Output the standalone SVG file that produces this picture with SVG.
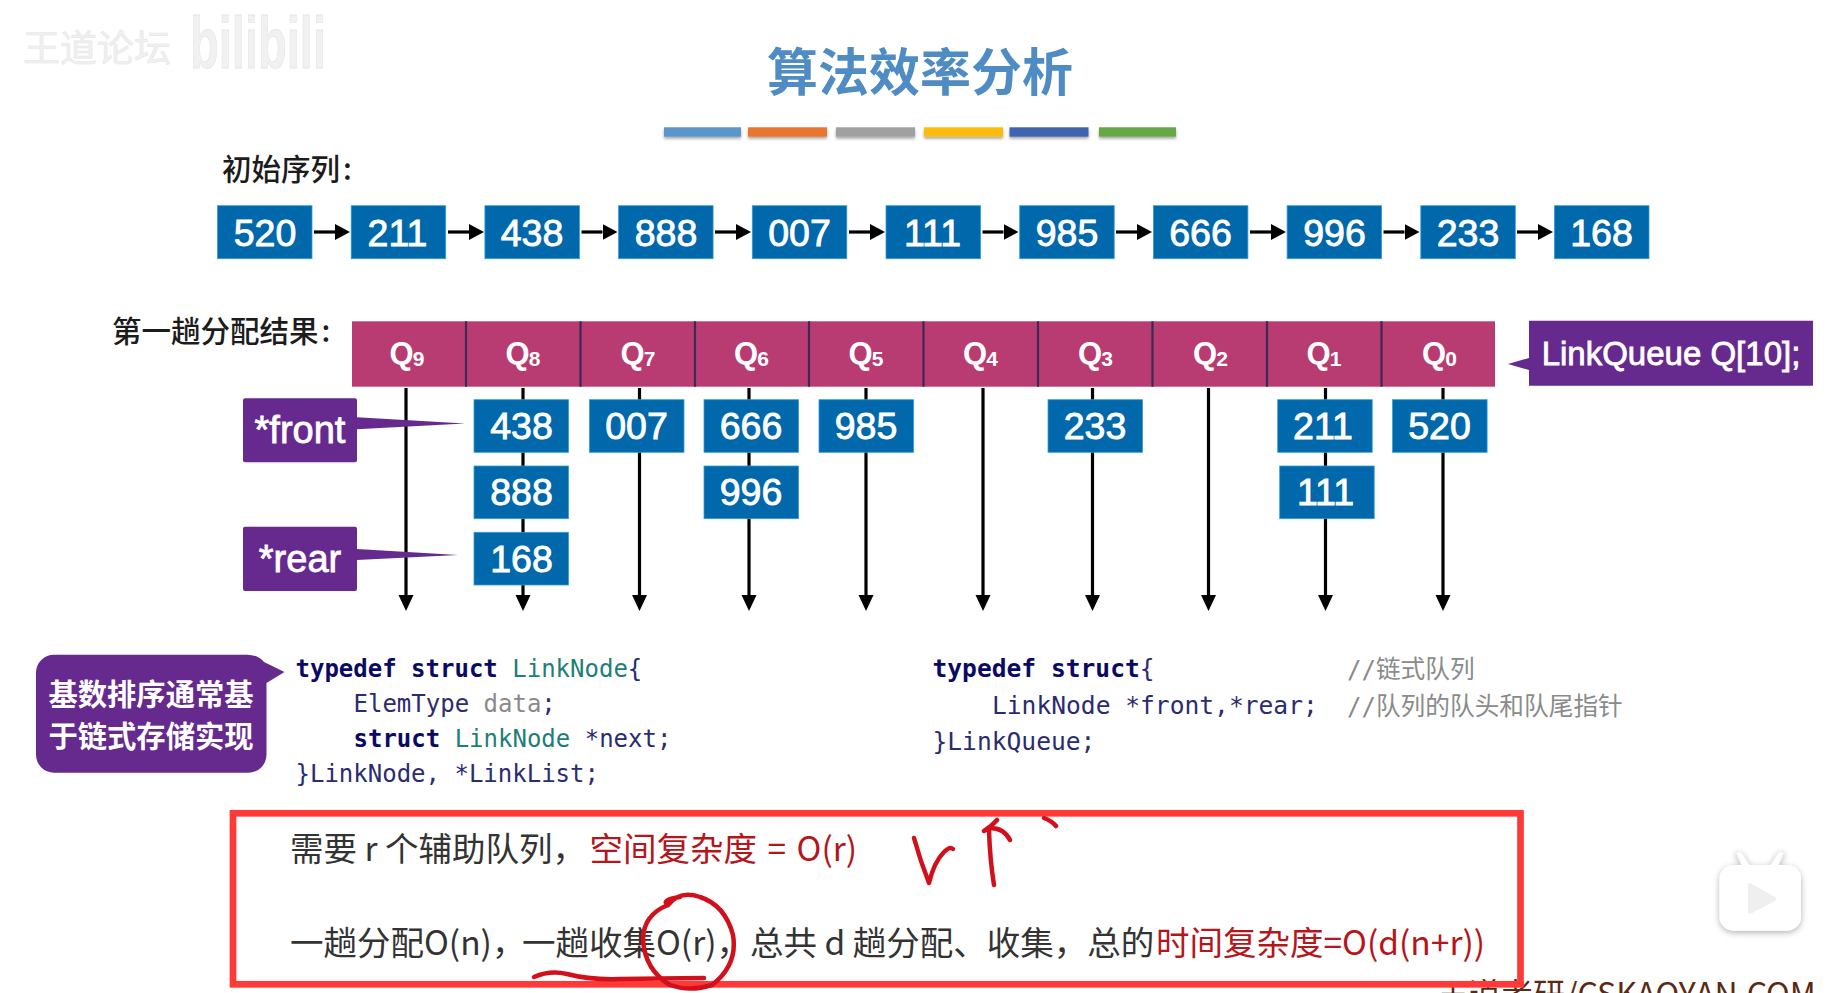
<svg xmlns="http://www.w3.org/2000/svg" width="1848" height="993" viewBox="0 0 1848 993">
<style>
text{font-family:"Liberation Sans","Noto Sans CJK SC",sans-serif}
.cjk{font-family:"Noto Sans CJK SC",sans-serif}
.b{fill:#0068ab;stroke:#2f9fd8;stroke-width:.8}
.n{fill:#fff;font-size:37.500px;text-anchor:middle;stroke:#fff;stroke-width:.9}
.q{fill:#fff;font-size:31px;font-weight:700}
.qs{font-size:21px}
.w{fill:#fff;stroke:#fff;stroke-width:.8}
.lbl{font-size:29.500px;fill:#1c1c1c;font-weight:500}
.c{font-family:"DejaVu Sans Mono",monospace;font-size:24px;fill:#2b2b70}
.c2{font-size:24.600px}
.k{font-weight:700;fill:#0a0a66}
.t{fill:#1d7f78}
.g{fill:#8a8a8a}
.cm{fill:#8a8a8a}
.cc{font-family:"Noto Sans CJK SC",sans-serif;font-size:24.700px}
.s{font-size:33.500px;fill:#333;font-family:"Noto Sans CJK SC",sans-serif;font-weight:400}
.r{fill:#b5161c}
.ink{fill:none;stroke:#d2101c;stroke-width:4.500;stroke-linecap:round;stroke-linejoin:round}
.h{stroke:#000;stroke-width:3.200;fill:none;marker-end:url(#ah)}
.v{stroke:#000;stroke-width:3.200;fill:none;marker-end:url(#av)}
</style>
<defs>
<marker id="ah" markerUnits="userSpaceOnUse" markerWidth="16" markerHeight="16" refX="0" refY="8" orient="auto"><path d="M0 0L15 8L0 16Z" fill="#000"/></marker>
<marker id="av" markerUnits="userSpaceOnUse" markerWidth="16" markerHeight="16" refX="0" refY="8" orient="auto"><path d="M0 .5L16 8L0 15.500Z" fill="#000"/></marker>
<filter id="sh" x="-10%" y="-50%" width="120%" height="220%"><feDropShadow dx="0" dy="2" stdDeviation="1.500" flood-color="#000" flood-opacity=".35"/></filter>
<filter id="sh2" x="-20%" y="-20%" width="140%" height="140%"><feDropShadow dx="0" dy="2" stdDeviation="3" flood-color="#000" flood-opacity=".3"/></filter>
</defs>
<rect width="1848" height="993" fill="#fff"/>

<g id="watermark">
<text x="23" y="62" font-size="37" fill="#f0f0f0" stroke="#e8e8e8" stroke-width=".6" class="cjk">王道论坛</text>
<text x="190" y="68" font-size="72" font-weight="700" fill="#f1f1f1" stroke="#e6e6e6" stroke-width=".8" textLength="136" lengthAdjust="spacingAndGlyphs">bilibili</text>
</g>

<g id="title">
<text x="920" y="91" font-size="51" font-weight="700" fill="#4f8cc4" text-anchor="middle" class="cjk">算法效率分析</text>
<rect x="664" y="127.300" width="77" height="9.400" fill="#5a96ca" filter="url(#sh)"/>
<rect x="748" y="127.300" width="79" height="9.400" fill="#e8762e" filter="url(#sh)"/>
<rect x="836" y="127.300" width="79" height="9.400" fill="#a0a0a0" filter="url(#sh)"/>
<rect x="924" y="127.300" width="79" height="9.400" fill="#fdbb10" filter="url(#sh)"/>
<rect x="1009.500" y="127.300" width="79" height="9.400" fill="#3f64b0" filter="url(#sh)"/>
<rect x="1099" y="127.300" width="77" height="9.400" fill="#65a844" filter="url(#sh)"/>
</g>

<g id="labels">
<text x="222" y="180" class="lbl cjk">初始序列<tspan dx="3">:</tspan></text>
<text x="112" y="342" class="lbl cjk">第一趟分配结果<tspan dx="3">:</tspan></text>
</g>

<g id="connectors">
<path class="h" d="M314 232H335"/><path class="h" d="M448 232H469"/><path class="h" d="M581.500 232H602.500"/><path class="h" d="M715 232H736"/><path class="h" d="M849 232H870"/><path class="h" d="M982.500 232H1003.500"/><path class="h" d="M1116 232H1137"/><path class="h" d="M1250 232H1271"/><path class="h" d="M1383.500 232H1404.500"/><path class="h" d="M1517 232H1538"/>
<path class="v" d="M406 388V595"/><path class="v" d="M523 388V595"/><path class="v" d="M639.500 388V595"/><path class="v" d="M749 388V595"/><path class="v" d="M866 388V595"/><path class="v" d="M983 388V595"/><path class="v" d="M1092.500 388V595"/><path class="v" d="M1208.500 388V595"/><path class="v" d="M1325.500 388V595"/><path class="v" d="M1443 388V595"/>
</g>

<g id="sequence">
<g id="s0"><rect class="b" x="217.500" y="205.700" width="94.500" height="53"/><text class="n" x="265" y="246">520</text></g>
<g id="s1"><rect class="b" x="351.200" y="205.700" width="94.500" height="53"/><text class="n" x="397.500" y="246">211</text></g>
<g id="s2"><rect class="b" x="484.900" y="205.700" width="94.500" height="53"/><text class="n" x="532" y="246">438</text></g>
<g id="s3"><rect class="b" x="618.600" y="205.700" width="94.500" height="53"/><text class="n" x="666" y="246">888</text></g>
<g id="s4"><rect class="b" x="752.300" y="205.700" width="94.500" height="53"/><text class="n" x="799.500" y="246">007</text></g>
<g id="s5"><rect class="b" x="886" y="205.700" width="94.500" height="53"/><text class="n" x="932.500" y="246">111</text></g>
<g id="s6"><rect class="b" x="1019.700" y="205.700" width="94.500" height="53"/><text class="n" x="1067" y="246">985</text></g>
<g id="s7"><rect class="b" x="1153.400" y="205.700" width="94.500" height="53"/><text class="n" x="1200.500" y="246">666</text></g>
<g id="s8"><rect class="b" x="1287.100" y="205.700" width="94.500" height="53"/><text class="n" x="1334.500" y="246">996</text></g>
<g id="s9"><rect class="b" x="1420.800" y="205.700" width="94.500" height="53"/><text class="n" x="1468" y="246">233</text></g>
<g id="s10"><rect class="b" x="1554.500" y="205.700" width="94.500" height="53"/><text class="n" x="1601.500" y="246">168</text></g>
</g>

<g id="queue">
<rect x="352" y="321.300" width="1143" height="65.400" fill="#b83c72"/>
<path d="M466 321.300V386.700M580.500 321.300V386.700M695 321.300V386.700M809 321.300V386.700M923.500 321.300V386.700M1038 321.300V386.700M1152.500 321.300V386.700M1267 321.300V386.700M1381.500 321.300V386.700" stroke="#3a2a55" stroke-width="2.200"/>
<text class="q" x="389.500" y="364">Q<tspan class="qs" dy="2" dx="-1">9</tspan></text>
<text class="q" x="505.500" y="364">Q<tspan class="qs" dy="2" dx="-1">8</tspan></text>
<text class="q" x="620.500" y="364">Q<tspan class="qs" dy="2" dx="-1">7</tspan></text>
<text class="q" x="734" y="364">Q<tspan class="qs" dy="2" dx="-1">6</tspan></text>
<text class="q" x="848.500" y="364">Q<tspan class="qs" dy="2" dx="-1">5</tspan></text>
<text class="q" x="963" y="364">Q<tspan class="qs" dy="2" dx="-1">4</tspan></text>
<text class="q" x="1078" y="364">Q<tspan class="qs" dy="2" dx="-1">3</tspan></text>
<text class="q" x="1193" y="364">Q<tspan class="qs" dy="2" dx="-1">2</tspan></text>
<text class="q" x="1306.500" y="364">Q<tspan class="qs" dy="2" dx="-1">1</tspan></text>
<text class="q" x="1422" y="364">Q<tspan class="qs" dy="2" dx="-1">0</tspan></text>
</g>

<g id="buckets">
<g id="n438"><rect class="b" x="474" y="399.700" width="94.500" height="52.600"/><text class="n" x="521.500" y="438.500">438</text></g>
<g id="n888"><rect class="b" x="474" y="466" width="94.500" height="52.700"/><text class="n" x="521.500" y="505">888</text></g>
<g id="n168"><rect class="b" x="474" y="532.300" width="94.500" height="52.700"/><text class="n" x="521.500" y="571.500">168</text></g>
<g id="n007"><rect class="b" x="589.500" y="399.700" width="94.500" height="52.600"/><text class="n" x="636.500" y="438.500">007</text></g>
<g id="n666"><rect class="b" x="704" y="399.700" width="94.500" height="52.600"/><text class="n" x="751" y="438.500">666</text></g>
<g id="n996"><rect class="b" x="704" y="466" width="94.500" height="52.700"/><text class="n" x="751" y="505">996</text></g>
<g id="n985"><rect class="b" x="819" y="399.700" width="94.500" height="52.600"/><text class="n" x="866" y="438.500">985</text></g>
<g id="n233"><rect class="b" x="1048" y="399.700" width="94.500" height="52.600"/><text class="n" x="1095" y="438.500">233</text></g>
<g id="n211"><rect class="b" x="1277.700" y="399.700" width="94.500" height="52.600"/><text class="n" x="1323" y="438.500">211</text></g>
<g id="n111"><rect class="b" x="1279.700" y="466" width="94.500" height="52.700"/><text class="n" x="1325.500" y="505">111</text></g>
<g id="n520"><rect class="b" x="1392.600" y="399.700" width="94.500" height="52.600"/><text class="n" x="1439.500" y="438.500">520</text></g>
</g>

<g id="front">
<path d="M245 398.300H355a2 2 0 0 1 2 2V417.300L465 423.500L357 429.300V460.300a2 2 0 0 1-2 2H245a2 2 0 0 1-2-2V400.300a2 2 0 0 1 2-2Z" fill="#662a8f"/>
<text x="300" y="443" font-size="38" text-anchor="middle" class="w">*front</text>
</g>
<g id="rear">
<path d="M245 526.700H355a2 2 0 0 1 2 2V549L458 555L357 560V589a2 2 0 0 1-2 2H245a2 2 0 0 1-2-2V528.700a2 2 0 0 1 2-2Z" fill="#662a8f"/>
<text x="300" y="571.500" font-size="38" text-anchor="middle" class="w">*rear</text>
</g>
<g id="linkqueue">
<path d="M1529 320.700H1813V385.700H1529V370L1508 364L1529 358Z" fill="#662a8f"/>
<text x="1671" y="365" font-size="33" text-anchor="middle" class="w">LinkQueue Q[10];</text>
</g>

<g id="note">
<path d="M54 654.700H247Q258 654.700 264 662L284.500 672L266.500 683V754.700a18 18 0 0 1-18 18H54a18 18 0 0 1-18-18V672.700a18 18 0 0 1 18-18Z" fill="#662a8f"/>
<text x="151" y="705" font-size="29.300" font-weight="700" fill="#fff" text-anchor="middle" class="cjk">基数排序通常基</text>
<text x="151" y="747" font-size="29.300" font-weight="700" fill="#fff" text-anchor="middle" class="cjk">于链式存储实现</text>
</g>

<g id="code1">
<text class="c" x="295.500" y="677"><tspan class="k">typedef struct</tspan> <tspan class="t">LinkNode</tspan>{</text>
<text class="c" x="353.500" y="712">ElemType <tspan class="g">data</tspan>;</text>
<text class="c" x="353.500" y="747"><tspan class="k">struct</tspan> <tspan class="t">LinkNode</tspan> *next;</text>
<text class="c" x="295.500" y="782">}LinkNode, *LinkList;</text>
</g>
<g id="code2">
<text class="c c2" x="932.500" y="677"><tspan class="k">typedef struct</tspan>{</text>
<text class="c c2" x="992" y="714">LinkNode *front,*rear;</text>
<text class="c c2" x="932.500" y="750">}LinkQueue;</text>
<text class="c cm" x="1347" y="678">//<tspan class="cc">链式队列</tspan></text>
<text class="c cm" x="1347" y="715">//<tspan class="cc">队列的队头和队尾指针</tspan></text>
</g>

<g id="credit">
<text x="1437" y="1006" font-size="32" fill="#5a2a14" class="cjk">王道考研/CSKAOYAN.COM</text>
</g>

<g id="summary">
<rect x="233" y="813.300" width="1287.500" height="171" fill="none" stroke="#ff3838" stroke-width="6.700"/>
<text class="s" x="290" y="861">需要 r 个辅助队列，</text>
<text class="s r" x="589.500" y="861" word-spacing="3">空间复杂度 = O(r)</text>
<text class="s" x="290" y="955">一趟分配O(n)，</text>
<text class="s" x="522" y="955">一趟收集O(r)，</text>
<text class="s" x="750" y="955">总共 d 趟分配、收集，总的</text>
<text class="s r" x="1156" y="955">时间复杂度=O(d(n+r))</text>
</g>

<g id="handwriting">
<path class="ink" d="M914 838Q920 860 929 883Q934 862 944 852Q950 846 953 849"/>
<path class="ink" d="M994 885Q990 860 989 831M984 831Q992 826 997 820M990 828Q1004 828 1010 840M1044 818Q1052 821 1056 826"/>
<path class="ink" d="M668 905Q680 890 700 897Q725 905 733 935Q738 965 712 985Q690 992 670 985Q645 970 643 940Q643 915 668 905Q660 900 680 897"/>
<path class="ink" d="M534 977Q550 970 567 974Q590 980 620 979L704 978"/>
</g>

<g id="tv" filter="url(#sh2)">
<path d="M1742 866L1736 852Q1741 850 1744 856L1750 866ZM1778 866L1784 852Q1779 850 1776 856L1770 866Z" fill="#fff" stroke="#eee"/>
<rect x="1719.500" y="865" width="81.500" height="65.700" rx="14" fill="#fff"/>
<path d="M1748 885Q1748 881 1752 884L1775 897Q1777 899 1775 901L1752 913Q1748 915 1748 911Z" fill="#efefef"/>
</g>
</svg>
